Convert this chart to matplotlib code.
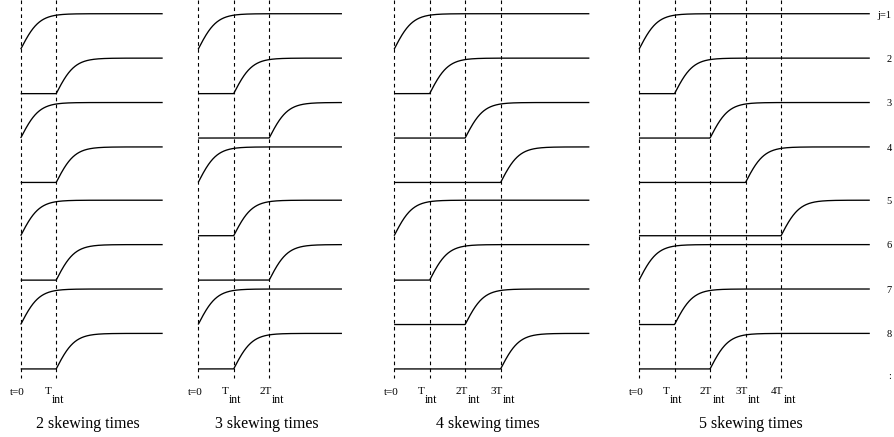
import numpy as np
import matplotlib
matplotlib.use("Agg")
import matplotlib.pyplot as plt

plt.rcParams["font.family"] = ["Liberation Serif", "DejaVu Serif"]
plt.rcParams["lines.scale_dashes"] = False

# Skewing schedules: number of skewing times per panel and the slot
# (in units of T_int) at which row j = 1..8 starts to rise
skew_counts = [2, 3, 4, 5]
start_slots = [
    [0, 1, 0, 1, 0, 1, 0, 1],
    [0, 1, 2, 0, 1, 2, 0, 1],
    [0, 1, 2, 3, 0, 1, 2, 3],
    [0, 1, 2, 3, 4, 0, 1, 2],
]
trace_lengths = [4.0, 4.05, 5.5, 6.5]          # length of each trace, in T_int
row_labels = ["j=1", "2", "3", "4", "5", "6", "7", "8"]
tick_main = [
    ["t=0", "T"],
    ["t=0", "T", "2T"],
    ["t=0", "T", "2T", "3T"],
    ["t=0", "T", "2T", "3T", "4T"],
]
tick_sub = "int"
panel_titles = ["2 skewing times", "3 skewing times",
                "4 skewing times", "5 skewing times"]

# layout (x in units of T_int, y in row spacings)
panel_x0 = [0.0, 5.0, 10.52, 17.42]
amp = 0.8
tau = 0.52


def row_top(j):
    return -j - (0.2 if j >= 4 else 0.0)


def rise(t):
    return np.where(t > 0, np.tanh(np.clip(t, 0, None) / tau), 0.0)


fig = plt.figure(figsize=(8.95, 4.37), dpi=100)
ax = fig.add_axes([0, 0, 1, 1])
ax.set_xlim(-0.583, 24.63)
ax.set_ylim(-9.533, 0.309)
ax.axis("off")

y_dash_top, y_dash_bot = 0.309, -8.205

for p, k in enumerate(skew_counts):
    x0 = panel_x0[p]
    L = trace_lengths[p]
    # dashed markers at the skewing times
    for m in range(k):
        ax.plot([x0 + m, x0 + m], [y_dash_top, y_dash_bot], color="black",
                lw=0.8, dashes=(2.6, 2.4))
    # one trace per row
    t = np.linspace(0, L, 600)
    for j, s in enumerate(start_slots[p]):
        top = row_top(j)
        y = top - amp + amp * rise(t - s)
        ax.plot(x0 + t, y, color="black", lw=0.95, solid_capstyle="butt")
    # time labels
    for m, lab in enumerate(tick_main[p]):
        if m == 0:
            ax.annotate(lab, (x0, -8.52), xytext=(-2.2, 0),
                        textcoords="offset points", ha="center", va="center",
                        fontsize=8)
        else:
            off = -3.6 if lab == "T" else 1.6
            ax.annotate(lab, (x0 + m, -8.52), xytext=(off, 0.5),
                        textcoords="offset points", ha="right", va="center",
                        fontsize=8)
            ax.annotate(tick_sub, (x0 + m, -8.52), xytext=(off + 0.2, -5.5),
                        textcoords="offset points", ha="left", va="center",
                        fontsize=8.5)
    ax.text(x0 + L / 2 - 0.1, -9.24, panel_titles[p], ha="center",
            va="center", fontsize=11.5)

# row indices on the right edge
for j, lab in enumerate(row_labels):
    ax.annotate(lab, (24.63, row_top(j)), xytext=(-2.5, -1),
                textcoords="offset points", ha="right", va="center",
                fontsize=7.5)
ax.annotate(":", (24.63, row_top(7) - 0.97), xytext=(-2.5, 0),
            textcoords="offset points", ha="right", va="center",
            fontsize=7.5)

fig.savefig("out.png", dpi=100, facecolor="white")
